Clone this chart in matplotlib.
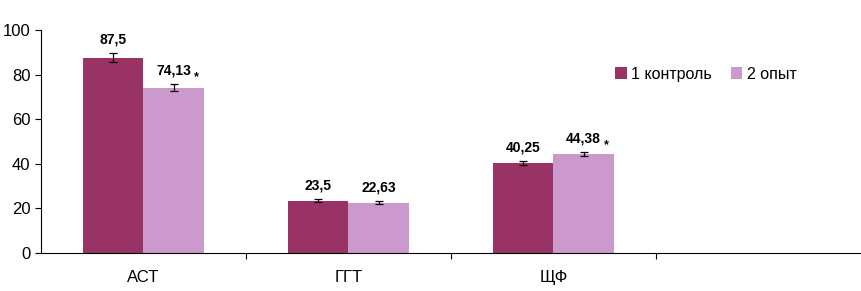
import numpy as np
import matplotlib.pyplot as plt

plt.rcParams['font.family'] = ['Liberation Sans', 'DejaVu Sans']

categories = ['АСТ', 'ГГТ', 'ЩФ']
control = [87.5, 23.5, 40.25]
opyt = [74.13, 22.63, 44.38]
control_err = [2.0, 0.5, 1.0]
opyt_err = [1.6, 0.8, 0.7]
control_lbl = ['87,5', '23,5', '40,25']
opyt_lbl = ['74,13', '22,63', '44,38']
opyt_star = [True, False, True]

dark = '#993366'
light = '#cc99cc'

fig = plt.figure(figsize=(8.61, 2.91), dpi=100)
ax = fig.add_axes([0.0476, 0.1306, 0.9524, 0.7664])

x = np.arange(len(categories))
w = 0.293
ax.bar(x - w / 2, control, w, color=dark, label='1 контроль')
ax.bar(x + w / 2, opyt, w, color=light, label='2 опыт')
ax.errorbar(x - w / 2, control, yerr=control_err, fmt='none', ecolor='black',
            elinewidth=0.9, capsize=3, capthick=0.9)
ax.errorbar(x + w / 2, opyt, yerr=opyt_err, fmt='none', ecolor='black',
            elinewidth=0.9, capsize=3, capthick=0.9)

for i in range(len(categories)):
    ax.text(x[i] - w / 2, control[i] + control_err[i] + 3, control_lbl[i],
            ha='center', va='bottom', fontsize=10, fontweight='bold')
    ax.text(x[i] + w / 2, opyt[i] + opyt_err[i] + 3, opyt_lbl[i],
            ha='center', va='bottom', fontsize=10, fontweight='bold')
    if opyt_star[i]:
        ax.text(x[i] + w / 2 + 0.1, opyt[i] + opyt_err[i] + 0.5, '*',
                ha='left', va='bottom', fontsize=9, fontweight='bold')

ax.set_xlim(-0.5, 3.5)
ax.set_ylim(0, 100)
ax.set_yticks(np.arange(0, 101, 20))
ax.set_xticks([0.5, 1.5, 2.5])
ax.set_xticklabels([])
ax.set_xticks(x, minor=True)
ax.set_xticklabels(categories, minor=True, fontsize=12)
ax.tick_params(axis='x', which='minor', length=0, pad=12)
ax.tick_params(axis='x', which='major', length=4, direction='out')
ax.tick_params(axis='y', labelsize=12, length=4)

for s in ['top', 'right']:
    ax.spines[s].set_visible(False)

ax.legend(loc='upper left', bbox_to_anchor=(0.683, 0.9), ncol=2, frameon=False,
          fontsize=11.5, handlelength=0.7, handleheight=0.7, handletextpad=0.3,
          columnspacing=1.2)

fig.savefig('out.png', dpi=100)
